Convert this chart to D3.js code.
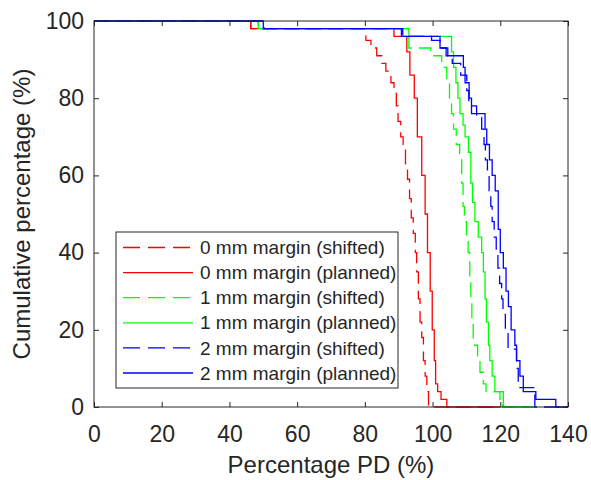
<!DOCTYPE html>
<html>
<head>
<meta charset="utf-8">
<script src="https://cdn.jsdelivr.net/npm/d3@7"></script>
<style>
  body { margin: 0; background: #fff; }
  text { font-family: "Liberation Sans", Arial, sans-serif; fill: #262626; }
</style>
</head>
<body>
<svg width="591" height="480"></svg>
<script>
// valores (degraus: nível y a partir de x)
const red0ShiftX   = [0, 46.3, 80.3, 81.8, 83.5, 85, 86.2, 87.7, 88.6, 89.3, 89.8, 90.6, 91.3, 92, 92.6, 93.2, 93.7, 94.3, 94.9, 95.3, 95.8, 96.3, 96.8, 97.3, 97.8, 98.3, 98.8, 120];
const red0ShiftY   = [100, 98, 95, 93, 91, 89, 87, 84, 82, 78, 74, 70, 67, 63, 59, 54, 49, 45, 40, 35, 28, 22, 18, 12, 8, 4, 0, 0];
const red0PlanX    = [0, 46.3, 88.6, 92.4, 93.3, 94.6, 95.5, 96.8, 97.8, 98.5, 99.3, 99.9, 100.5, 100.9, 101.5, 102.5, 104.2, 120];
const red0PlanY    = [100, 98, 96, 92, 86, 80, 70, 60, 50, 40, 30, 20, 12, 6, 4, 2, 0, 0];
const green1ShiftX = [0, 48.5, 93, 99.5, 102.7, 104.2, 105, 105.6, 106.2, 107, 108, 108.6, 109, 109.4, 110, 110.5, 111, 111.3, 111.6, 112, 113.3, 114, 115, 115.8, 119.9, 120.7, 130];
const green1ShiftY = [100, 98, 93, 91, 88, 84, 80, 76, 72, 68, 64, 58, 52, 48, 44, 40, 34, 28, 22, 16, 12, 9, 6, 4, 2, 0, 0];
const green1PlanX  = [0, 48.5, 93, 105.6, 106.2, 106.9, 107.5, 108.1, 109, 109.6, 110.6, 111.3, 111.8, 112.5, 113.5, 114.5, 115, 115.5, 115.9, 116.5, 116.9, 117.6, 118.4, 120.9, 130];
const green1PlanY  = [100, 98, 96, 92, 88, 84, 80, 76, 73, 70, 66, 58, 53, 48, 44, 40, 35, 28, 22, 16, 12, 8, 4, 0, 0];
const blue2ShiftX  = [0, 50.2, 91.2, 99.7, 102.2, 104.5, 105.8, 108.3, 110.1, 110.7, 113, 114.5, 115.2, 115.6, 116.2, 116.7, 117.2, 117.6, 118.2, 118.8, 119.3, 119.8, 120.4, 120.8, 121.5, 122.3, 124.8, 125.3, 130.2, 140];
const blue2ShiftY  = [100, 98, 96, 95, 93, 91, 89, 86, 82, 78, 75, 72, 68, 64, 60, 56, 52, 48, 44, 40, 36, 32, 28, 24, 20, 15, 10, 5, 0, 0];
const blue2PlanX   = [0, 50, 90.8, 102.2, 104, 109.1, 109.6, 110.8, 111.5, 115.5, 116, 116.8, 117.6, 118.5, 119.4, 120, 120.9, 121.7, 122.4, 123.2, 124.3, 124.8, 125.8, 126.8, 130.5, 136.4, 140];
const blue2PlanY   = [100, 98, 96, 93, 91, 88, 84, 80, 76, 72, 68, 64, 60, 56, 46, 40, 36, 30, 26, 20, 16, 12, 8, 4, 2, 0, 0];

const seriesNames = ["0 mm margin (shifted)", "0 mm margin (planned)", "1 mm margin (shifted)",
                     "1 mm margin (planned)", "2 mm margin (shifted)", "2 mm margin (planned)"];
const xTicks = [0, 20, 40, 60, 80, 100, 120, 140];
const yTicks = [0, 20, 40, 60, 80, 100];

const series = [
  { name: seriesNames[0], xs: red0ShiftX,   ys: red0ShiftY,   color: "#ff0000", dash: true },
  { name: seriesNames[1], xs: red0PlanX,    ys: red0PlanY,    color: "#ff0000", dash: false },
  { name: seriesNames[2], xs: green1ShiftX, ys: green1ShiftY, color: "#00ff00", dash: true },
  { name: seriesNames[3], xs: green1PlanX,  ys: green1PlanY,  color: "#00ff00", dash: false },
  { name: seriesNames[4], xs: blue2ShiftX,  ys: blue2ShiftY,  color: "#0000ff", dash: true },
  { name: seriesNames[5], xs: blue2PlanX,   ys: blue2PlanY,   color: "#0000ff", dash: false }
];

const svg = d3.select("svg");
const mLeft = 94, mRight = 568, mTop = 21, mBottom = 407;
const dashPattern = "15,7";

const x = d3.scaleLinear().domain([0, 140]).range([mLeft, mRight]);
const y = d3.scaleLinear().domain([0, 100]).range([mBottom, mTop]);

// curvas em degraus
const line = d3.line()
  .x(d => x(d[0]))
  .y(d => y(d[1]))
  .curve(d3.curveStepAfter);

series.forEach(s => {
  svg.append("path")
    .attr("d", line(d3.zip(s.xs, s.ys)))
    .attr("fill", "none")
    .attr("stroke", s.color)
    .attr("stroke-width", 1.3)
    .attr("stroke-dasharray", s.dash ? dashPattern : null);
});

// eixos (caixa com ticks para dentro)
const tickLen = 5;
const axisColor = "#262626";

const gx = svg.append("g").attr("transform", `translate(0,${mBottom})`)
  .call(d3.axisBottom(x).tickValues(xTicks).tickSizeInner(-tickLen).tickSizeOuter(0).tickPadding(19));
const gxTop = svg.append("g").attr("transform", `translate(0,${mTop})`)
  .call(d3.axisTop(x).tickValues(xTicks).tickSizeInner(-tickLen).tickSizeOuter(0).tickFormat(""));
const gy = svg.append("g").attr("transform", `translate(${mLeft},0)`)
  .call(d3.axisLeft(y).tickValues(yTicks).tickSizeInner(-tickLen).tickSizeOuter(0).tickPadding(10));
const gyRight = svg.append("g").attr("transform", `translate(${mRight},0)`)
  .call(d3.axisRight(y).tickValues(yTicks).tickSizeInner(-tickLen).tickSizeOuter(0).tickFormat(""));

[gx, gxTop, gy, gyRight].forEach(g => {
  g.select(".domain").remove();
  g.selectAll("line").attr("stroke", axisColor);
  g.selectAll("text").style("font-size", "23px")
    .style("font-family", "'Liberation Sans', Arial, sans-serif").attr("fill", axisColor);
});

svg.append("rect")
  .attr("x", mLeft).attr("y", mTop)
  .attr("width", mRight - mLeft).attr("height", mBottom - mTop)
  .attr("fill", "none").attr("stroke", axisColor).attr("stroke-width", 1);

// títulos dos eixos
svg.append("text")
  .attr("x", (mLeft + mRight) / 2).attr("y", 473)
  .attr("text-anchor", "middle")
  .style("font-size", "24px")
  .text("Percentage PD (%)");

svg.append("text")
  .attr("transform", `translate(30,${(mTop + mBottom) / 2}) rotate(-90)`)
  .attr("text-anchor", "middle")
  .style("font-size", "24px")
  .text("Cumulative percentage (%)");

// legenda
const legend = svg.append("g");
legend.append("rect")
  .attr("x", 116).attr("y", 232)
  .attr("width", 282).attr("height", 156)
  .attr("fill", "#fff").attr("stroke", axisColor).attr("stroke-width", 1);

series.forEach((s, i) => {
  const ly = 247.5 + i * 25.1;
  legend.append("line")
    .attr("x1", 123).attr("x2", 193)
    .attr("y1", ly).attr("y2", ly)
    .attr("stroke", s.color).attr("stroke-width", 1.3)
    .attr("stroke-dasharray", s.dash ? "17,8" : null);
  legend.append("text")
    .attr("x", 200).attr("y", ly)
    .attr("dy", "0.35em")
    .style("font-size", "19px")
    .text(s.name);
});
</script>
</body>
</html>
